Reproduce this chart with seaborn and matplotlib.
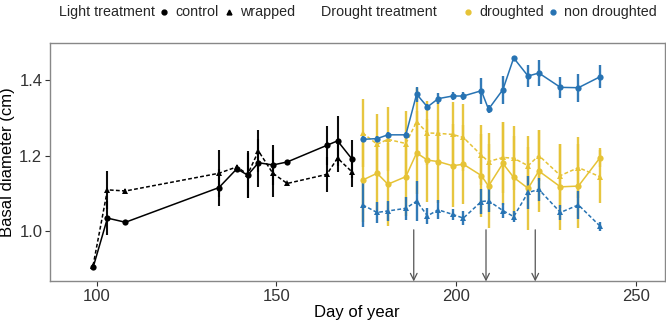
import numpy as np
import pandas as pd
import matplotlib
matplotlib.use("Agg")
import matplotlib.pyplot as plt
from matplotlib.lines import Line2D
import seaborn as sns

# before the drought: only light treatment (black)
pre_days = [99, 103, 108, 134, 139, 142, 145, 149, 153, 164, 167, 171]
pre_control = [0.903, 1.034, 1.023, 1.115, 1.165, 1.148, 1.181, 1.175, 1.183, 1.227, 1.239, 1.191]
pre_control_err = [0.004, 0.045, 0.004, 0.050, 0.004, 0.060, 0.064, 0.053, 0.004, 0.051, 0.066, 0.050]
pre_wrapped = [0.908, 1.109, 1.106, 1.153, 1.170, 1.150, 1.212, 1.153, 1.126, 1.150, 1.193, 1.157]
pre_wrapped_err = [0.004, 0.050, 0.004, 0.063, 0.004, 0.062, 0.056, 0.062, 0.004, 0.046, 0.036, 0.040]

# drought experiment
dr_days = [174, 178, 181, 186, 189, 192, 195, 199, 202, 207, 209, 213, 216, 220, 223, 229, 234, 240]
nd_control = [1.243, 1.245, 1.255, 1.255, 1.363, 1.329, 1.351, 1.358, 1.358, 1.372, 1.323, 1.375,
              1.459, 1.411, 1.419, 1.381, 1.380, 1.409]
nd_control_err = [0.008, 0.008, 0.008, 0.008, 0.020, 0.008, 0.015, 0.010, 0.010, 0.035, 0.010, 0.037,
                  0.005, 0.030, 0.035, 0.027, 0.037, 0.031]
nd_wrapped = [1.069, 1.049, 1.053, 1.060, 1.079, 1.040, 1.056, 1.044, 1.034, 1.078, 1.080, 1.054,
              1.038, 1.102, 1.110, 1.049, 1.069, 1.013]
nd_wrapped_err = [0.058, 0.027, 0.027, 0.030, 0.053, 0.022, 0.025, 0.015, 0.018, 0.033, 0.030, 0.020,
                  0.015, 0.045, 0.030, 0.020, 0.038, 0.012]
d_control = [1.135, 1.153, 1.124, 1.144, 1.207, 1.188, 1.184, 1.173, 1.177, 1.147, 1.119, 1.179,
             1.142, 1.113, 1.159, 1.117, 1.119, 1.194]
d_control_err = [0.110, 0.100, 0.110, 0.105, 0.110, 0.110, 0.110, 0.110, 0.105, 0.110, 0.112, 0.110,
                 0.110, 0.110, 0.108, 0.114, 0.112, 0.025]
d_wrapped = [1.260, 1.230, 1.243, 1.232, 1.290, 1.260, 1.259, 1.256, 1.248, 1.201, 1.184, 1.195,
             1.193, 1.173, 1.200, 1.147, 1.168, 1.144]
d_wrapped_err = [0.090, 0.080, 0.085, 0.085, 0.090, 0.085, 0.085, 0.086, 0.090, 0.080, 0.075, 0.095,
                 0.085, 0.080, 0.068, 0.085, 0.080, 0.070]

arrow_days = [188.2, 208.3, 222.0]

black = "#000000"
yellow = "#E6C336"
blue = "#2773B3"

rows = []
def add(days, vals, errs, drought, light):
    for d, v, e in zip(days, vals, errs):
        rows.append({"day": d, "diam": v, "err": e, "drought": drought, "light": light})

add(pre_days, pre_control, pre_control_err, "pre", "control")
add(pre_days, pre_wrapped, pre_wrapped_err, "pre", "wrapped")
add(dr_days, d_control, d_control_err, "droughted", "control")
add(dr_days, d_wrapped, d_wrapped_err, "droughted", "wrapped")
add(dr_days, nd_control, nd_control_err, "non droughted", "control")
add(dr_days, nd_wrapped, nd_wrapped_err, "non droughted", "wrapped")
df = pd.DataFrame(rows)

palette = {"pre": black, "droughted": yellow, "non droughted": blue}

sns.set_style("white")
plt.rcParams["font.family"] = ["Liberation Sans", "DejaVu Sans"]

fig = plt.figure(figsize=(6.66, 3.22), dpi=100)
ax = fig.add_axes([0.075, 0.126, 0.923, 0.742])

# error bars first
for (dr, lt), g in df.groupby(["drought", "light"]):
    ax.errorbar(g["day"], g["diam"], yerr=g["err"], fmt="none",
                ecolor=palette[dr], elinewidth=1.7 if dr != "pre" else 1.5,
                capsize=0, zorder=2, alpha=0.95)

order = ["droughted", "non droughted", "pre"]
sns.lineplot(data=df, x="day", y="diam", hue="drought", style="light",
             hue_order=order, palette=palette,
             markers={"control": "o", "wrapped": "^"},
             dashes={"control": "", "wrapped": (2.5, 1.5)},
             markersize=4.5, markeredgewidth=0, linewidth=1.1,
             estimator=None, sort=True, legend=False, ax=ax, zorder=3)

# arrows for the drought events
for d in arrow_days:
    ax.annotate("", xy=(d, 0.866), xytext=(d, 1.003),
                arrowprops=dict(arrowstyle="->", color="#555555", lw=0.9,
                                shrinkA=0, shrinkB=0, mutation_scale=12))

ax.set_xlim(87, 258)
ax.set_ylim(0.866, 1.5)
ax.set_xticks([100, 150, 200, 250])
ax.set_yticks([1.0, 1.2, 1.4])
ax.set_yticklabels(["1.0", "1.2", "1.4"])
ax.set_xlabel("Day of year", fontsize=12, color="black", labelpad=1)
ax.set_ylabel("Basal diameter (cm)", fontsize=12, color="black", labelpad=3)
ax.tick_params(axis="both", labelsize=12, colors="#333333", length=3.5, width=0.8,
               direction="out", bottom=True, left=True, pad=2)
for lab in ax.get_xticklabels() + ax.get_yticklabels():
    lab.set_color("#333333")
for sp in ax.spines.values():
    sp.set_color("#888888")
    sp.set_linewidth(1.0)

# legend row on top, placed in pixel positions of the figure
fs = 10.3
ly = 1 - 12 / 322
def key(x_px, marker, color):
    fig.add_artist(Line2D([x_px / 666], [ly], transform=fig.transFigure, ls="",
                          marker=marker, color=color, markersize=3.5))

def lab(x_px, s):
    fig.text(x_px / 666, ly, s, fontsize=fs, va="center", ha="left")

lab(59, "Light treatment")
key(164, "o", black)
lab(175, "control")
key(228.5, "^", black)
lab(240, "wrapped")
lab(321, "Drought treatment")
key(468, "o", yellow)
lab(479, "droughted")
key(553, "o", blue)
lab(564, "non droughted")

fig.savefig("out.png", dpi=100)
